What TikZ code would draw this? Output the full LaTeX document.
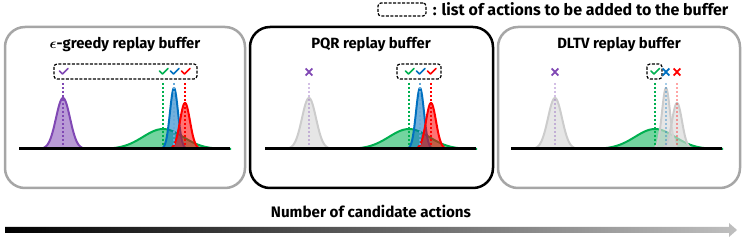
\documentclass[tikz,border=0pt]{standalone}
\usepackage{fontspec}
\setmainfont{Fira Sans}
\usepackage{bm}
\usetikzlibrary{positioning}
\definecolor{actpurple}{RGB}{128, 72, 180}
\definecolor{actgreen}{RGB}{0, 176, 80}
\definecolor{actblue}{RGB}{0, 112, 192}
\definecolor{actred}{RGB}{255, 0, 0}
\definecolor{frmgray}{RGB}{166, 166, 166}

% campana de Gauss sobre el eje (y = 149)
\newcommand{\bell}[3]{plot[domain={#1-3.4*#2}:{#1+3.4*#2}, samples=60] (\x,{149-#3*exp(-0.5*((\x-#1)/#2)^2)})}

\tikzset{
  ttl/.style={font=\bfseries\fontsize{14.8}{17}\selectfont},
  dashbox/.style={draw=black, line width=1.2pt, dash pattern=on 3pt off 1.5pt, rounded corners=3pt},
  dist/.style={draw=#1, fill=#1, fill opacity=0.55, line width=2pt},
  distgray/.style={draw=black!20, fill=black!15, fill opacity=0.65, line width=2pt},
  guide/.style={line width=2pt, dash pattern=on 2pt off 2pt},
  chk/.pic={\draw[line width=1.5pt, line cap=round, line join=round] (-4,-0.5) -- (-1,2.5) -- (4.5,-3);},
  crs/.pic={\draw[line width=1.8pt] (-3.3,-3.5) -- (3.3,3.5) (-3.3,3.5) -- (3.3,-3.5);}
}

\begin{document}
\begin{tikzpicture}[x=1pt, y=-1pt, font=\bfseries]

    \useasboundingbox (0,0) rectangle (747,240);

    % --- leyenda ---
    \node[dashbox, minimum width=48pt, minimum height=13pt] (legbox) at (402,9.5) {};
    \node[right=4pt of legbox, inner xsep=2pt, font=\bfseries\fontsize{16}{18}\selectfont] (legtext)
        {: list of actions to be added to the buffer};

    % --- paneles ---
    \draw[frmgray, line width=2.5pt, rounded corners=20pt] (5,27) rectangle (245,188);
    \draw[black,   line width=2.5pt, rounded corners=20pt] (250,27) rectangle (493,188);
    \draw[frmgray, line width=2.5pt, rounded corners=20pt] (498,27) rectangle (740,188);

    \node[ttl] (title1) at (125,45) {$\bm{\epsilon}$-greedy replay buffer};
    \node[ttl] (title2) at (371,45) {PQR replay buffer};
    \node[ttl] (title3) at (619,45) {DLTV replay buffer};

    % --- panel 1: epsilon-greedy ---
    \filldraw[dist=actgreen]  \bell{163}{20}{20} -- cycle;
    \filldraw[dist=actblue]   \bell{174}{4}{61} -- cycle;
    \filldraw[dist=actred]    \bell{185}{5}{46} -- cycle;
    \filldraw[dist=actpurple] \bell{63}{7}{51} -- cycle;
    \draw[guide, actpurple] (63,83) -- (63,149);
    \draw[guide, actgreen]  (163,83) -- (163,149);
    \draw[guide, actblue!60] (174,83) -- (174,149);
    \draw[guide, actred]    (185,83) -- (185,149);
    \draw[line width=3pt] (19,149) -- (230,149);
    \draw[dashbox] (54,64) rectangle (197,79);
    \pic[color=actpurple] at (63.5,71.5) {chk};
    \pic[color=actgreen]  at (163.5,71.5) {chk};
    \pic[color=actblue]   at (174.5,71.5) {chk};
    \pic[color=actred]    at (185.5,71.5) {chk};

    % --- panel 2: PQR ---
    \begin{scope}[xshift=246pt]
        \filldraw[distgray] \bell{63}{7}{51} -- cycle;
        \filldraw[dist=actgreen] \bell{163}{20}{20} -- cycle;
        \filldraw[dist=actblue]  \bell{174}{4}{61} -- cycle;
        \filldraw[dist=actred]   \bell{185}{5}{46} -- cycle;
        \draw[guide, actpurple, opacity=0.35] (63,83) -- (63,149);
        \draw[guide, actgreen]  (163,83) -- (163,149);
        \draw[guide, actblue!60] (174,83) -- (174,149);
        \draw[guide, actred]    (185,83) -- (185,149);
        \draw[line width=3pt] (19,149) -- (230,149);
        \draw[dashbox] (151,64) rectangle (195,79);
        \pic[color=actpurple] at (63,72) {crs};
        \pic[color=actgreen]  at (163.5,71.5) {chk};
        \pic[color=actblue]   at (174.5,71.5) {chk};
        \pic[color=actred]    at (185.5,71.5) {chk};
    \end{scope}

    % --- panel 3: DLTV ---
    \begin{scope}[xshift=492pt]
        \filldraw[distgray] \bell{63}{7}{51} -- cycle;
        \filldraw[dist=actgreen] \bell{163}{20}{20} -- cycle;
        \filldraw[distgray] \bell{174}{4}{61} -- cycle;
        \filldraw[distgray] \bell{185}{5}{46} -- cycle;
        \draw[guide, actpurple, opacity=0.35] (63,83) -- (63,149);
        \draw[guide, actgreen]  (163,83) -- (163,149);
        \draw[guide, actblue, opacity=0.35] (174,83) -- (174,149);
        \draw[guide, actred, opacity=0.35]  (185,83) -- (185,149);
        \draw[line width=3pt] (19,149) -- (230,149);
        \draw[dashbox] (155,64) rectangle (170,79);
        \pic[color=actpurple] at (63,72) {crs};
        \pic[color=actgreen]  at (163,71.5) {chk};
        \pic[color=actblue]   at (174,72) {crs};
        \pic[color=actred]    at (185,72) {crs};
    \end{scope}

    % --- eje de acciones ---
    \shade[left color=black, right color=black!25]
        (5,227) -- (729,227) -- (729,223) -- (737,230) -- (729,237) -- (729,233) -- (5,233) -- cycle;
    \node[font=\bfseries\fontsize{15.2}{17}\selectfont] (xlabel) at (371,211) {Number of candidate actions};

\end{tikzpicture}
\end{document}
